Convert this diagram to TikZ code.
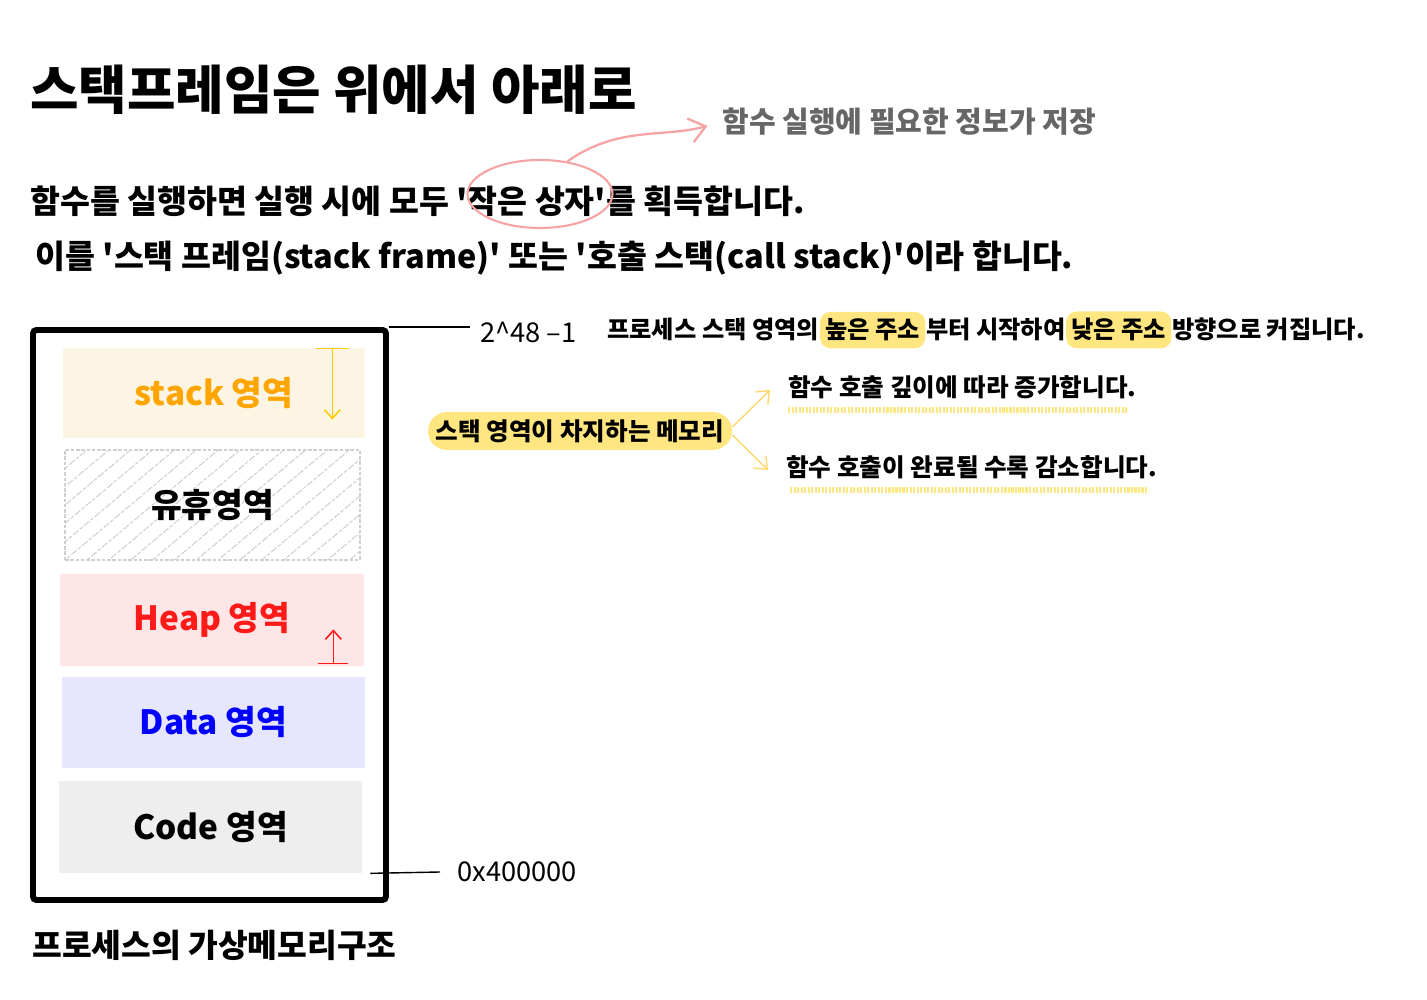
\documentclass[tikz,border=0pt]{standalone}
\usepackage{xcolor}
\usepackage{fontspec}
\setmainfont{Noto Sans CJK KR}[Ligatures=TeXOff]
\usetikzlibrary{arrows.meta,patterns.meta,shapes.geometric}
\definecolor{VMStack}{HTML}{FDF5E3}
\definecolor{VMOrange}{HTML}{FFA500}
\definecolor{VMArrow}{HTML}{FFCC00}
\definecolor{VMHeap}{HTML}{FFE6E6}
\definecolor{VMRed}{HTML}{FF1A1A}
\definecolor{VMData}{HTML}{E6E6FF}
\definecolor{VMBlue}{HTML}{0000FF}
\definecolor{VMCode}{HTML}{EEEEEE}
\definecolor{VMHatch}{HTML}{CFCFCF}
\definecolor{VMPink}{HTML}{F5A3A3}
\definecolor{VMHigh}{HTML}{FFE680}
\definecolor{VMGrey}{HTML}{666666}

\begin{document}
\begin{tikzpicture}[x=1cm,y=1cm,
  region/.style={minimum width=6.06cm,minimum height=1.82cm,inner sep=0pt,
    font=\fontsize{19}{21}\selectfont\bfseries},
  body/.style={anchor=base west,inner sep=0pt,font=\fontsize{18.5}{21}\selectfont\bfseries},
  note/.style={inner sep=0pt,font=\fontsize{14}{16}\selectfont\bfseries},
  hlmark/.style={note,fill=VMHigh,rounded corners=6pt,inner xsep=3pt,inner ysep=4pt},
  hand/.style={anchor=west,inner sep=0pt,font=\fontsize{15.5}{17}\selectfont},
  sketch/.style={VMHigh!85!orange,line width=0.8pt,-{Straight Barb[length=6pt,width=10pt]}},
  squiggle/.style={VMHigh,line width=3.5pt,dash pattern=on 1.2pt off 0.8pt}]
\path[use as bounding box] (0,0) rectangle (28.54,20.00);
% heading
\node[anchor=base west,inner sep=0pt,font=\fontsize{30}{32}\selectfont\bfseries] (title) at (0.60,17.80) {스택프레임은 위에서 아래로};
\node[anchor=west,inner sep=0pt,text=VMGrey,font=\fontsize{16.5}{18}\selectfont\bfseries] (info) at (14.44,17.56) {함수 실행에 필요한 정보가 저장};
\node[body] (line1) at (0.60,15.72) {함수를 실행하면 실행 시에 모두 '작은 상자'를 획득합니다.};
\node[body] (line2) at (0.70,14.62) {이를 '스택 프레임(stack frame)' 또는 '호출 스택(call stack)'이라 합니다.};
\node[ellipse,draw=VMPink,line width=1.2pt,minimum width=2.9cm,minimum height=1.36cm] (smallbox) at (10.80,16.12) {};
\draw[VMPink,line width=1.3pt,-{Straight Barb[length=9pt,width=14pt]},shorten >=0.3cm]
  (smallbox.50) to[out=35,in=195] (info.west);

% memory layout
\node[draw,line width=3.4pt,rounded corners=2pt,minimum width=7.06cm,minimum height=11.40cm] (vmframe) at (4.19,7.70) {};
\node[region,fill=VMStack,text=VMOrange,minimum width=6.04cm,minimum height=1.80cm] (stackarea) at (4.28,12.14) {stack 영역};
\node[region,draw=VMHatch,line width=1pt,dash pattern=on 2pt off 1pt,
  pattern={Lines[angle=40,distance=8pt,line width=0.6pt]},pattern color=VMHatch,
  minimum width=5.90cm,minimum height=2.20cm] (idlearea) at (4.25,9.90) {유휴영역};
\node[region,fill=VMHeap,text=VMRed,minimum width=6.08cm,minimum height=1.84cm] (heaparea) at (4.24,7.60) {Heap 영역};
\node[region,fill=VMData,text=VMBlue] (dataarea) at (4.27,5.55) {Data 영역};
\node[region,fill=VMCode,minimum height=1.84cm] (codearea) at (4.21,3.46) {Code 영역};
\draw[VMArrow,line width=0.9pt,{Bar[width=0.66cm]}-{Straight Barb[length=5pt,width=9pt]}]
  ([xshift=-0.66cm]stackarea.north east) -- ++(0,-1.44);
\draw[VMRed,line width=0.9pt,{Bar[width=0.60cm]}-{Straight Barb[length=5pt,width=9pt]}]
  ([xshift=-0.62cm,yshift=0.04cm]heaparea.south east) -- ++(0,0.70);

% addresses
\node[hand] (hiaddr) at (9.60,13.36) {2\textasciicircum{}48 –1};
\node[hand] (lowaddr) at (9.14,2.56) {0x400000};
\draw[line width=0.8pt] (vmframe.north east) -- ([xshift=-0.2cm]hiaddr.west |- vmframe.north east);
\draw[line width=0.8pt] ([xshift=0.16cm]codearea.south east) -- ([xshift=-0.34cm]lowaddr.west);
\node[anchor=west,inner sep=0pt,font=\fontsize{18.4}{20}\selectfont\bfseries] (caption) at (0.64,1.10) {프로세스의 가상메모리구조};

% notes
\node[note,font=\fontsize{13.8}{16}\selectfont\bfseries,anchor=base west] (grow1) at (12.14,13.22) {프로세스 스택 영역의};
\node[hlmark,font=\fontsize{13.8}{16}\selectfont\bfseries,anchor=base west] (grow2) at (grow1.base east) {높은 주소};
\node[note,font=\fontsize{13.8}{16}\selectfont\bfseries,anchor=base west] (grow3) at (grow2.base east) {부터 시작하여};
\node[hlmark,font=\fontsize{13.8}{16}\selectfont\bfseries,anchor=base west] (grow4) at (grow3.base east) {낮은 주소};
\node[note,font=\fontsize{13.8}{16}\selectfont\bfseries,anchor=base west] (grow5) at (grow4.base east) {방향으로 커집니다.};
\node[hlmark,rounded corners=0.38cm,minimum width=6.08cm,minimum height=0.76cm] (stackmem) at (11.60,11.38) {스택 영역이 차지하는 메모리};
\node[note,anchor=west] (deeper) at (15.76,12.26) {함수 호출 깊이에 따라 증가합니다.};
\node[note,anchor=west] (finish) at (15.72,10.66) {함수 호출이 완료될 수록 감소합니다.};
\draw[sketch] ([yshift=0.08cm]stackmem.east) -- ([xshift=-0.36cm,yshift=-0.06cm]deeper.west);
\draw[sketch] ([yshift=-0.08cm]stackmem.east) -- ([xshift=-0.36cm,yshift=-0.06cm]finish.west);
\draw[squiggle] ([yshift=-0.22cm]deeper.south west) -- ([yshift=-0.22cm,xshift=-0.2cm]deeper.south east);
\draw[squiggle] ([yshift=-0.22cm,xshift=0.08cm]finish.south west) -- ([yshift=-0.22cm,xshift=-0.2cm]finish.south east);
\end{tikzpicture}
\end{document}
